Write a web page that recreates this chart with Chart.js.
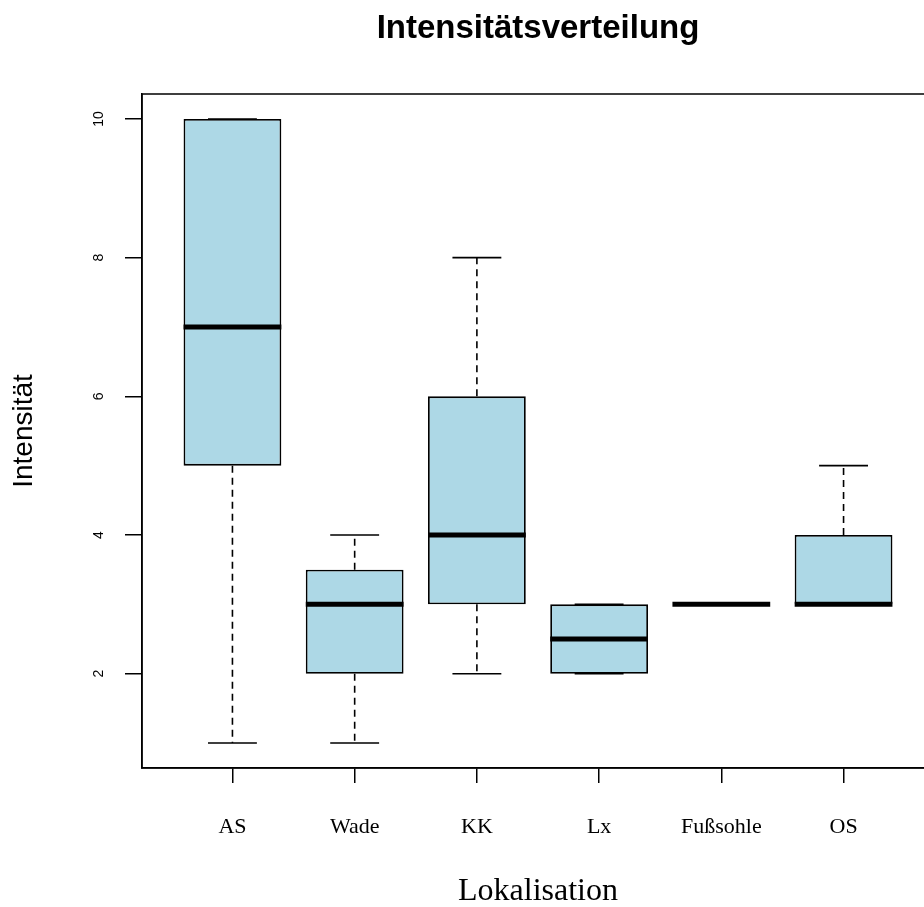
<!DOCTYPE html>
<html><head><meta charset="utf-8">
<script src="https://cdn.jsdelivr.net/npm/chart.js@4.4.1/dist/chart.umd.min.js"></script>
<style>html,body{margin:0;padding:0;overflow:hidden;background:#fff;width:924px;height:907px}canvas{display:block}</style>
</head><body>
<canvas id="c" width="934" height="907"></canvas>
<script>
const categories = ['AS', 'Wade', 'KK', 'Lx', 'Fußsohle', 'OS'];
const whiskerLow = [1, 1, 2, 2, 3, 3];
const lowerQuartile = [5, 2, 3, 2, 3, 3];
const median = [7, 3, 4, 2.5, 3, 3];
const upperQuartile = [10, 3.5, 6, 3, 3, 4];
const whiskerHigh = [10, 4, 8, 3, 3, 5];
const yTicks = [2, 4, 6, 8, 10];

const boxPlugin = {
  id: 'boxparts',
  beforeDatasetsDraw(chart) {
    const {ctx, chartArea: a} = chart;
    ctx.save();
    ctx.strokeStyle = '#000';
    ctx.lineWidth = 1.5;
    ctx.strokeRect(a.left, a.top, a.right - a.left, a.bottom - a.top);
    ctx.restore();
  },
  afterDatasetsDraw(chart) {
    const {ctx, scales: {x, y}} = chart;
    ctx.save();
    ctx.strokeStyle = '#000';
    categories.forEach((c, i) => {
      const pos = i + 1;
      const cx = x.getPixelForValue(pos);
      const bl = x.getPixelForValue(pos - 0.4), br = x.getPixelForValue(pos + 0.4);
      const sl = x.getPixelForValue(pos - 0.2), sr = x.getPixelForValue(pos + 0.2);
      ctx.lineWidth = 1.6;
      ctx.setLineDash([7, 5]);
      ctx.beginPath();
      if (whiskerHigh[i] > upperQuartile[i]) {
        ctx.moveTo(cx, y.getPixelForValue(upperQuartile[i]));
        ctx.lineTo(cx, y.getPixelForValue(whiskerHigh[i]));
      }
      if (whiskerLow[i] < lowerQuartile[i]) {
        ctx.moveTo(cx, y.getPixelForValue(lowerQuartile[i]));
        ctx.lineTo(cx, y.getPixelForValue(whiskerLow[i]));
      }
      ctx.stroke();
      ctx.setLineDash([]);
      ctx.beginPath();
      const yh = y.getPixelForValue(whiskerHigh[i]);
      const yl = y.getPixelForValue(whiskerLow[i]);
      ctx.moveTo(sl, yh); ctx.lineTo(sr, yh);
      ctx.moveTo(sl, yl); ctx.lineTo(sr, yl);
      ctx.stroke();
      ctx.lineWidth = 5;
      ctx.lineCap = 'butt';
      const ym = y.getPixelForValue(median[i]);
      ctx.beginPath();
      ctx.moveTo(bl, ym); ctx.lineTo(br, ym);
      ctx.stroke();
    });
    ctx.restore();
  }
};

new Chart(document.getElementById('c'), {
  type: 'bar',
  data: {
    datasets: [{
      data: categories.map((c, i) => ({x: i + 1, y: [lowerQuartile[i], upperQuartile[i]]})),
      backgroundColor: '#ADD8E6',
      borderColor: '#000',
      borderWidth: 1.8,
      borderSkipped: false,
      barPercentage: 0.8,
      categoryPercentage: 1
    }]
  },
  options: {
    responsive: false,
    animation: false,
    layout: {padding: 0},
    plugins: {
      legend: {display: false},
      tooltip: {enabled: false},
      title: {
        display: true,
        text: 'Intensitätsverteilung',
        fullSize: false,
        color: '#000',
        font: {family: 'Liberation Sans, Arial, sans-serif', size: 33, weight: 'bold', lineHeight: 1.2},
        padding: {top: 8.8, bottom: 45.6}
      }
    },
    scales: {
      x: {
        type: 'linear',
        offset: false,
        min: 0.26,
        max: 6.74,
        afterBuildTicks: s => { s.ticks = categories.map((c, i) => ({value: i + 1})); },
        ticks: {
          callback: (v, idx) => categories[idx],
          font: {family: 'Liberation Serif, Times New Roman, serif', size: 22},
          color: '#000',
          padding: 31,
          autoSkip: false,
          maxRotation: 0
        },
        grid: {offset: false, drawOnChartArea: false, drawTicks: true, tickLength: 15, color: '#000', lineWidth: 1.5},
        border: {display: true, color: '#000', width: 1.5},
        title: {
          display: true,
          text: 'Lokalisation',
          color: '#000',
          font: {family: 'Liberation Serif, Times New Roman, serif', size: 32, lineHeight: 0.95},
          padding: 0
        },
        afterFit: s => { s.height = 139; }
      },
      y: {
        min: 0.64,
        max: 10.36,
        afterBuildTicks: s => { s.ticks = yTicks.map(v => ({value: v})); },
        ticks: {
          minRotation: 90,
          maxRotation: 90,
          crossAlign: 'center',
          font: {family: 'Liberation Sans, Arial, sans-serif', size: 14},
          color: '#000',
          padding: 18
        },
        grid: {drawOnChartArea: false, drawTicks: true, tickLength: 17, color: '#000', lineWidth: 1.5},
        border: {display: true, color: '#000', width: 1.5},
        title: {
          display: true,
          text: 'Intensität',
          color: '#000',
          font: {family: 'Liberation Sans, Arial, sans-serif', size: 28},
          padding: {top: 7.7, bottom: 0}
        },
        afterFit: s => { s.width = 142; }
      }
    }
  },
  plugins: [boxPlugin]
});
</script>
</body></html>
